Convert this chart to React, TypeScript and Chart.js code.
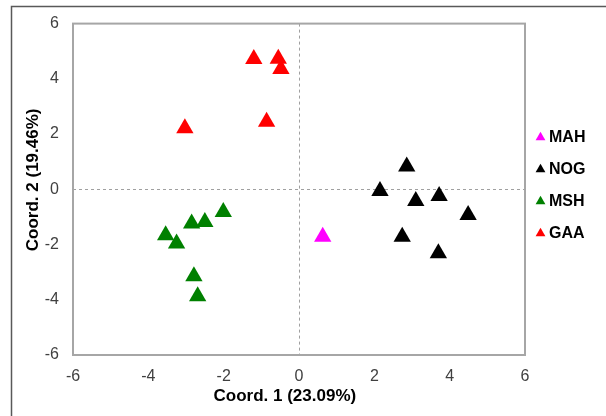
import React, { useEffect, useRef } from "react";
import { Chart, registerables } from "chart.js";

Chart.register(...registerables);

// ---- data ----
const seriesNames = ["MAH", "NOG", "MSH", "GAA"];
const seriesColors = ["#FF00FF", "#000000", "#008000", "#FF0000"];

const mahX = [0.63];
const mahY = [-1.72];

const nogX = [2.86, 2.15, 3.1, 3.72, 4.49, 2.74, 3.7];
const nogY = [0.83, -0.06, -0.42, -0.24, -0.93, -1.72, -2.32];

const mshX = [-3.54, -3.25, -2.85, -2.5, -2.01, -2.79, -2.69];
const mshY = [-1.66, -1.96, -1.24, -1.18, -0.82, -3.15, -3.87];

const gaaX = [-1.2, -0.55, -0.48, -0.86, -3.03];
const gaaY = [4.72, 4.73, 4.36, 2.45, 2.21];

const xTickValues = [-6, -4, -2, 0, 2, 4, 6];
const yTickValues = [-6, -4, -2, 0, 2, 4, 6];

const xTitle = "Coord. 1 (23.09%)";
const yTitle = "Coord. 2 (19.46%)";

const FONT = "'Liberation Sans', Arial, sans-serif";

const seriesX = [mahX, nogX, mshX, gaaX];
const seriesY = [mahY, nogY, mshY, gaaY];

const decorPlugin = {
  id: "decor",
  beforeLayout(chart: any) {
    const lg = chart.legend;
    if (lg && !lg.__fixedWidth) {
      const origFit = lg.fit;
      lg.fit = function () {
        origFit.call(this);
        this.width = 81;
      };
      lg.__fixedWidth = true;
    }
  },
  afterLayout(chart: any) {
    const lg = chart.legend;
    if (lg) {
      lg.top -= 4;
      lg.bottom -= 4;
      lg.left -= 1;
      lg.right -= 1;
    }
  },
  beforeDraw(chart: any) {
    const ctx = chart.ctx;
    ctx.save();
    ctx.fillStyle = "#ffffff";
    ctx.fillRect(0, 0, chart.width, chart.height);
    ctx.strokeStyle = "#595959";
    ctx.lineWidth = 1.5;
    ctx.beginPath();
    ctx.moveTo(11.5, chart.height);
    ctx.lineTo(11.5, 6.5);
    ctx.lineTo(chart.width, 6.5);
    ctx.stroke();
    ctx.restore();
  },
  beforeDatasetsDraw(chart: any) {
    const { left, top, right, bottom } = chart.chartArea;
    const ctx = chart.ctx;
    ctx.save();
    ctx.strokeStyle = "#A6A6A6";
    ctx.lineWidth = 2;
    ctx.strokeRect(left, top, right - left, bottom - top);
    ctx.restore();
  },
};

export default function App() {
  const ref = useRef<HTMLCanvasElement>(null);

  useEffect(() => {
    if (!ref.current) return;
    const datasets = seriesNames.map((name, i) => ({
      label: name,
      data: seriesX[i].map((x, j) => ({ x, y: seriesY[i][j] })),
      pointStyle: "triangle",
      pointRadius: 10,
      pointHoverRadius: 10,
      backgroundColor: seriesColors[i],
      borderColor: seriesColors[i],
      borderWidth: 0,
    }));

    const gridColor = (c: any) =>
      c.tick && c.tick.value === 0 ? "#A0A0A0" : "rgba(0,0,0,0)";

    const chart = new Chart(ref.current, {
      type: "scatter",
      data: { datasets },
      plugins: [decorPlugin],
      options: {
        responsive: false,
        devicePixelRatio: 1,
        animation: false,
        layout: { padding: { left: 0, top: 20, right: 0, bottom: 0 } },
        plugins: {
          tooltip: { enabled: false },
          legend: {
            position: "right",
            fullSize: false,
            labels: {
              usePointStyle: true,
              boxWidth: 1,
              boxHeight: 8,
              padding: 16,
              color: "#000000",
              font: { family: FONT, size: 16, weight: "bold" },
            },
          },
        },
        scales: {
          x: {
            type: "linear",
            min: -6,
            max: 6,
            afterBuildTicks: (s: any) => {
              s.ticks = xTickValues.map((v) => ({ value: v }));
            },
            afterFit: (s: any) => {
              s.height = 61;
            },
            ticks: {
              padding: 12,
              color: "#404040",
              font: { family: FONT, size: 16 },
              maxRotation: 0,
            },
            grid: { drawTicks: false, color: gridColor, lineWidth: 1 },
            border: { display: false, dash: [3, 3] },
            title: {
              display: true,
              text: xTitle + "      ",
              color: "#000000",
              font: { family: FONT, size: 17, weight: "bold" },
              padding: { top: 0, bottom: 9 },
            },
          },
          y: {
            type: "linear",
            min: -6,
            max: 6,
            afterBuildTicks: (s: any) => {
              s.ticks = yTickValues.map((v) => ({ value: v }));
            },
            afterFit: (s: any) => {
              s.width = 73;
            },
            ticks: {
              padding: 14,
              color: "#404040",
              font: { family: FONT, size: 16 },
            },
            grid: { drawTicks: false, color: gridColor, lineWidth: 1 },
            border: { display: false, dash: [3, 3] },
            title: {
              display: true,
              text: "    " + yTitle,
              color: "#000000",
              font: { family: FONT, size: 17, weight: "bold" },
              padding: { top: 23, bottom: 0 },
            },
          },
        },
      },
    } as any);

    return () => chart.destroy();
  }, []);

  return (
    <div
      style={{
        position: "fixed",
        left: 0,
        top: 0,
        width: 606,
        height: 416,
        background: "#ffffff",
      }}
    >
      <canvas
        ref={ref}
        width={606}
        height={416}
        style={{ display: "block", width: 606, height: 416 }}
      />
    </div>
  );
}
